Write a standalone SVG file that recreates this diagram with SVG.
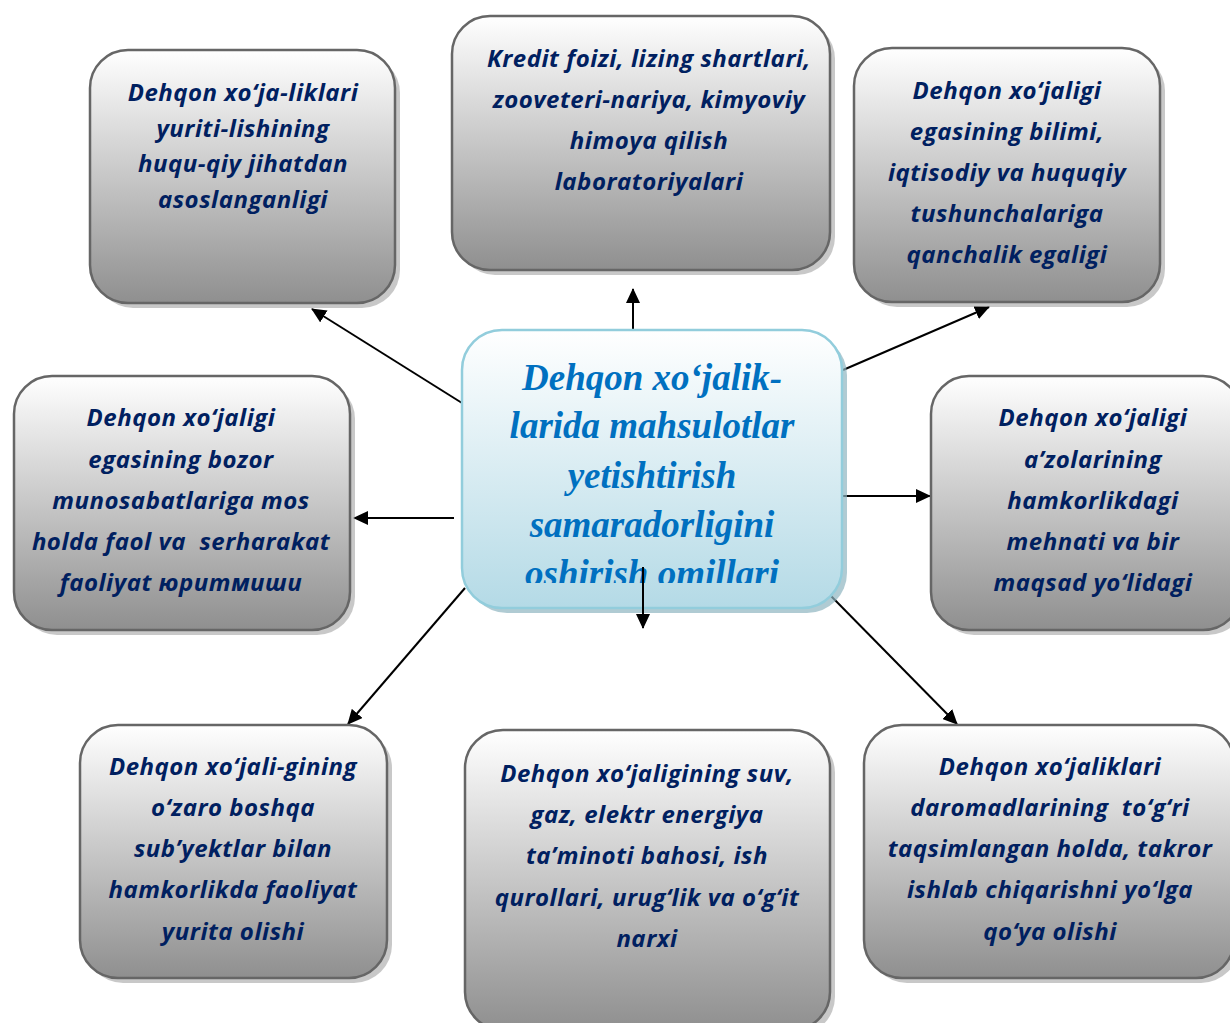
<svg xmlns="http://www.w3.org/2000/svg" width="1230" height="1023" viewBox="0 0 1230 1023">
<style>
.box{fill:url(#g);stroke:#666;stroke-width:2.5}
.sh{fill:#9a9a9a;opacity:0.55}
.t{font-family:"Open Sans","Noto Sans",sans-serif;font-weight:bold;font-style:italic;font-size:24px;letter-spacing:0.5px;fill:#002060;text-anchor:middle}
.c{font-family:"Liberation Serif",serif;font-weight:bold;font-style:italic;font-size:37px;fill:#0070C0;text-anchor:middle}
.ln{stroke:#000;stroke-width:2;fill:none;marker-end:url(#ah)}
</style>
<defs>
<linearGradient id="g" x1="0" y1="0" x2="0" y2="1">
<stop offset="0" stop-color="#ffffff"/>
<stop offset="1" stop-color="#8f8f8f"/>
</linearGradient>
<linearGradient id="gc" x1="0" y1="0" x2="0" y2="1">
<stop offset="0" stop-color="#ffffff"/>
<stop offset="1" stop-color="#b4dae6"/>
</linearGradient>
<marker id="ah" markerWidth="15" markerHeight="14" refX="14" refY="7" orient="auto" markerUnits="userSpaceOnUse" viewBox="0 0 15 14">
<path d="M0,0 L15,7 L0,14 z" fill="#000"/>
</marker>
<clipPath id="cc"><rect x="462" y="330" width="380" height="253"/></clipPath>
</defs>
<rect width="1230" height="1023" fill="#fff"/>
<g id="connectors">
<line class="ln" x1="462" y1="403" x2="312" y2="309"/>
<line class="ln" x1="633" y1="329" x2="633" y2="289"/>
<line class="ln" x1="843" y1="370" x2="989" y2="307"/>
<line class="ln" x1="454" y1="518" x2="354" y2="518"/>
<line class="ln" x1="843" y1="496" x2="930" y2="496"/>
<line class="ln" x1="465" y1="588" x2="348" y2="724"/>
<line class="ln" x1="830" y1="595" x2="957" y2="724"/>
</g>
<g id="n1">
<rect class="sh" x="95" y="55" width="305" height="253" rx="38"/>
<rect class="box" x="90" y="50" width="305" height="253" rx="38"/>
<text class="t"><tspan x="243" y="101">Dehqon xo‘ja-liklari</tspan><tspan x="243" y="137">yuriti-lishining</tspan><tspan x="243" y="172">huqu-qiy jihatdan</tspan><tspan x="243" y="208">asoslanganligi</tspan></text>
</g>
<g id="n2">
<rect class="sh" x="457" y="21" width="378" height="254" rx="38"/>
<rect class="box" x="452" y="16" width="378" height="254" rx="38"/>
<text class="t"><tspan x="649" y="67">Kredit foizi, lizing shartlari,</tspan><tspan x="649" y="108">zooveteri-nariya, kimyoviy</tspan><tspan x="649" y="149">himoya qilish</tspan><tspan x="649" y="190">laboratoriyalari</tspan></text>
</g>
<g id="n3">
<rect class="sh" x="859" y="53" width="306" height="254" rx="38"/>
<rect class="box" x="854" y="48" width="306" height="254" rx="38"/>
<text class="t"><tspan x="1007" y="99">Dehqon xo‘jaligi</tspan><tspan x="1007" y="140">egasining bilimi,</tspan><tspan x="1007" y="181">iqtisodiy va huquqiy</tspan><tspan x="1007" y="222">tushunchalariga</tspan><tspan x="1007" y="263">qanchalik egaligi</tspan></text>
</g>
<g id="n4">
<rect class="sh" x="19" y="381" width="336" height="254" rx="38"/>
<rect class="box" x="14" y="376" width="336" height="254" rx="38"/>
<text class="t" xml:space="preserve"><tspan x="181" y="426">Dehqon xo‘jaligi</tspan><tspan x="181" y="468">egasining bozor</tspan><tspan x="181" y="509">munosabatlariga mos</tspan><tspan x="181" y="550">holda faol va  serharakat</tspan><tspan x="181" y="591">faoliyat юритмиши</tspan></text>
</g>
<g id="n6">
<rect class="sh" x="936" y="381" width="310" height="254" rx="38"/>
<rect class="box" x="931" y="376" width="310" height="254" rx="38"/>
<text class="t"><tspan x="1093" y="426">Dehqon xo‘jaligi</tspan><tspan x="1093" y="468">a’zolarining</tspan><tspan x="1093" y="509">hamkorlikdagi</tspan><tspan x="1093" y="550">mehnati va bir</tspan><tspan x="1093" y="591">maqsad yo‘lidagi</tspan></text>
</g>
<g id="n7">
<rect class="sh" x="85" y="730" width="307" height="253" rx="38"/>
<rect class="box" x="80" y="725" width="307" height="253" rx="38"/>
<text class="t"><tspan x="233" y="775">Dehqon xo‘jali-gining</tspan><tspan x="233" y="816">o‘zaro boshqa</tspan><tspan x="233" y="857">sub’yektlar bilan</tspan><tspan x="233" y="898">hamkorlikda faoliyat</tspan><tspan x="233" y="940">yurita olishi</tspan></text>
</g>
<g id="n8">
<rect class="sh" x="470" y="735" width="365" height="300" rx="38"/>
<rect class="box" x="465" y="730" width="365" height="300" rx="38"/>
<text class="t"><tspan x="647" y="782">Dehqon xo‘jaligining suv,</tspan><tspan x="647" y="823">gaz, elektr energiya</tspan><tspan x="647" y="864">ta’minoti bahosi, ish</tspan><tspan x="647" y="906">qurollari, urug‘lik va o‘g‘it</tspan><tspan x="647" y="947">narxi</tspan></text>
</g>
<g id="n9">
<rect class="sh" x="869" y="730" width="370" height="253" rx="38"/>
<rect class="box" x="864" y="725" width="370" height="253" rx="38"/>
<text class="t" xml:space="preserve"><tspan x="1050" y="775">Dehqon xo‘jaliklari</tspan><tspan x="1050" y="816">daromadlarining  to‘g‘ri</tspan><tspan x="1050" y="857">taqsimlangan holda, takror</tspan><tspan x="1050" y="898">ishlab chiqarishni yo‘lga</tspan><tspan x="1050" y="940">qo‘ya olishi</tspan></text>
</g>
<g id="n5">
<rect x="467" y="335" width="380" height="278" rx="40" fill="#8fb5c0" opacity="0.7"/>
<rect x="462" y="330" width="380" height="278" rx="40" fill="url(#gc)" stroke="#92cddc" stroke-width="2.5"/>
<text class="c" clip-path="url(#cc)"><tspan x="652" y="390">Dehqon xo‘jalik-</tspan><tspan x="652" y="438">larida mahsulotlar</tspan><tspan x="652" y="488">yetishtirish</tspan><tspan x="652" y="537">samaradorligini</tspan><tspan x="652" y="586">oshirish omillari</tspan></text>
</g>
<g id="connector-down">
<line class="ln" x1="643" y1="567" x2="643" y2="628"/>
</g>
</svg>
